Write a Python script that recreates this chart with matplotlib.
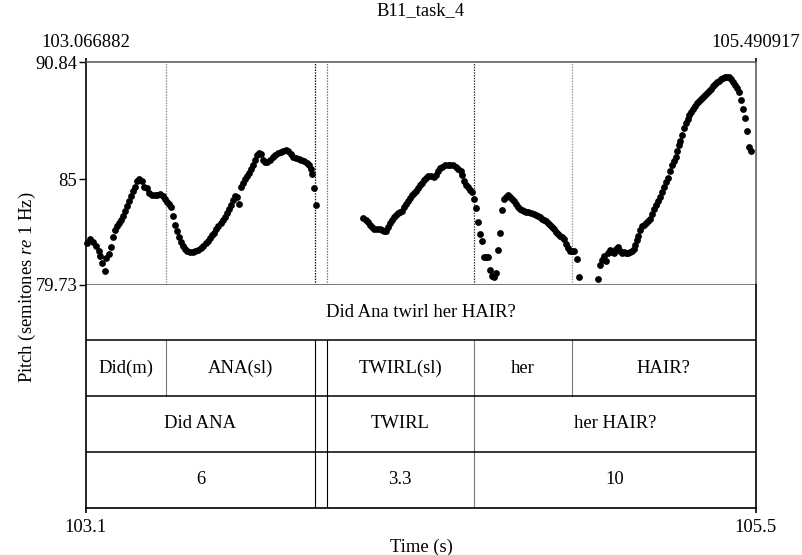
import matplotlib
matplotlib.use("Agg")
import matplotlib.pyplot as plt

plt.rcParams['font.family'] = 'Liberation Serif'
plt.rcParams['font.size'] = 13.4
plt.rcParams['mathtext.fontset'] = 'custom'
plt.rcParams['mathtext.rm'] = 'Liberation Serif'
plt.rcParams['mathtext.it'] = 'Liberation Serif:italic'

title = "B11_task_4"
t_start, t_end = 103.066882, 105.490917
st_min, st_mid, st_max = 79.73, 85, 90.84
top_labels = ["103.066882", "105.490917"]
bottom_labels = ["103.1", "105.5"]
y_labels = ["79.73", "85", "90.84"]

# pitch track, time (s) and semitones re 1 Hz
t_did = [103.0704, 103.0824, 103.0945, 103.1041, 103.1138, 103.1186, 103.1258, 103.1355,
         103.1403, 103.1499, 103.1572, 103.1668, 103.1741, 103.1813, 103.1885, 103.1958,
         103.2030, 103.2102, 103.2175, 103.2247, 103.2320, 103.2392, 103.2464, 103.2537,
         103.2609, 103.2705, 103.2778, 103.2874, 103.2971, 103.3067, 103.3164, 103.3260,
         103.3357, 103.3453, 103.3526, 103.3622, 103.3694, 103.3767]
st_did = [81.797, 81.997, 81.880, 81.664, 81.431, 81.164, 80.798, 80.398,
          81.047, 81.264, 81.630, 82.130, 82.463, 82.663, 82.796, 82.963,
          83.162, 83.429, 83.662, 83.928, 84.162, 84.395, 84.628, 84.928,
          84.994, 84.928, 84.628, 84.561, 84.295, 84.228, 84.195, 84.228,
          84.262, 84.162, 83.995, 83.862, 83.762, 83.629]

t_ana = [103.3815, 103.3887, 103.3960, 103.4032, 103.4104, 103.4177, 103.4249, 103.4346,
         103.4442, 103.4539, 103.4635, 103.4732, 103.4828, 103.4925, 103.5021, 103.5093,
         103.5166, 103.5238, 103.5310, 103.5383, 103.5455, 103.5551, 103.5648, 103.5720,
         103.5793, 103.5865, 103.5938, 103.6010, 103.6058, 103.6130, 103.6203, 103.6275,
         103.6347, 103.6420, 103.6492, 103.6565, 103.6637, 103.6709, 103.6782, 103.6854,
         103.6926, 103.6999, 103.7071, 103.7144, 103.7240, 103.7337, 103.7433, 103.7529,
         103.7626, 103.7722, 103.7819, 103.7915, 103.7987, 103.8084, 103.8180, 103.8277,
         103.8373, 103.8470, 103.8567, 103.8663, 103.8735, 103.8807, 103.8856, 103.8928,
         103.9000]
st_ana = [83.162, 82.713, 82.396, 82.097, 81.863, 81.664, 81.530, 81.431,
          81.364, 81.381, 81.397, 81.464, 81.547, 81.664, 81.797, 81.930,
          82.063, 82.197, 82.330, 82.496, 82.663, 82.829, 82.963, 83.096,
          83.296, 83.496, 83.712, 83.962, 84.162, 84.095, 83.762, 84.628,
          84.828, 84.994, 85.161, 85.327, 85.527, 85.727, 85.960, 86.193,
          86.293, 86.260, 85.960, 85.860, 85.843, 85.960, 86.127, 86.227,
          86.293, 86.360, 86.426, 86.460, 86.393, 86.260, 86.127, 86.043,
          85.993, 85.960, 85.927, 85.827, 85.727, 85.494, 85.261, 84.561,
          83.695]

t_twirl = [104.0701, 104.0798, 104.0894, 104.0967, 104.1039, 104.1111, 104.1208, 104.1304,
           104.1377, 104.1473, 104.1546, 104.1618, 104.1690, 104.1763, 104.1835, 104.1907,
           104.1980, 104.2052, 104.2125, 104.2197, 104.2269, 104.2342, 104.2414, 104.2486,
           104.2559, 104.2631, 104.2703, 104.2776, 104.2848, 104.2920, 104.2993, 104.3065,
           104.3162, 104.3258, 104.3355, 104.3427, 104.3499, 104.3572, 104.3668, 104.3765,
           104.3861, 104.3958, 104.4054, 104.4151, 104.4247, 104.4295, 104.4368, 104.4440,
           104.4512, 104.4585, 104.4657, 104.4705, 104.4778, 104.4850, 104.4922, 104.4995,
           104.5067, 104.5164, 104.5236, 104.5284, 104.5381, 104.5453, 104.5525, 104.5598,
           104.5670, 104.5743, 104.5791, 104.5863, 104.5960, 104.6032, 104.6104, 104.6177,
           104.6249, 104.6321, 104.6394, 104.6466, 104.6538, 104.6611, 104.6683, 104.6780,
           104.6876, 104.6949, 104.7021, 104.7093, 104.7166, 104.7238, 104.7310, 104.7383,
           104.7455, 104.7527, 104.7600, 104.7672, 104.7744, 104.7817, 104.7889, 104.7962,
           104.8034, 104.8106, 104.8179, 104.8251, 104.8347, 104.8444, 104.8516]
st_twirl = [83.046, 82.963, 82.879, 82.713, 82.596, 82.496, 82.496, 82.496,
            82.463, 82.396, 82.430, 82.596, 82.796, 82.963, 83.096, 83.196,
            83.296, 83.362, 83.429, 83.595, 83.762, 83.928, 84.062, 84.195,
            84.295, 84.428, 84.561, 84.694, 84.828, 84.961, 85.061, 85.161,
            85.161, 85.127, 85.227, 85.427, 85.560, 85.627, 85.694, 85.727,
            85.727, 85.694, 85.627, 85.527, 85.394, 85.194, 84.928, 84.728,
            84.595, 84.461, 84.361, 84.028, 83.545, 82.863, 82.263, 81.897,
            81.131, 81.131, 81.131, 80.465, 80.165, 80.131, 80.331, 81.464,
            82.330, 83.462, 83.995, 84.128, 84.195, 84.095, 84.028, 83.895,
            83.762, 83.629, 83.529, 83.462, 83.395, 83.362, 83.362, 83.329,
            83.262, 83.229, 83.162, 83.096, 83.029, 82.963, 82.896, 82.829,
            82.729, 82.596, 82.496, 82.363, 82.263, 82.163, 82.097, 81.997,
            81.764, 81.564, 81.397, 81.397, 81.397, 80.997, 80.131]

t_hair = [104.9216, 104.9289, 104.9361, 104.9433, 104.9506, 104.9554, 104.9626, 104.9699,
          104.9771, 104.9843, 104.9916, 104.9988, 105.0060, 105.0133, 105.0205, 105.0277,
          105.0350, 105.0422, 105.0495, 105.0543, 105.0615, 105.0663, 105.0736, 105.0808,
          105.0880, 105.0953, 105.1025, 105.1098, 105.1170, 105.1242, 105.1315, 105.1387,
          105.1459, 105.1532, 105.1604, 105.1676, 105.1749, 105.1821, 105.1894, 105.1942,
          105.2014, 105.2062, 105.2135, 105.2183, 105.2255, 105.2328, 105.2376, 105.2448,
          105.2497, 105.2569, 105.2641, 105.2714, 105.2786, 105.2858, 105.2931, 105.3003,
          105.3075, 105.3148, 105.3220, 105.3292, 105.3365, 105.3437, 105.3510, 105.3582,
          105.3654, 105.3727, 105.3799, 105.3871, 105.3944, 105.4016, 105.4088, 105.4161,
          105.4233, 105.4306, 105.4378, 105.4450, 105.4523, 105.4595, 105.4667, 105.4740]
st_hair = [79.998, 80.714, 80.964, 81.164, 80.898, 81.331, 81.464, 81.381,
           81.297, 81.497, 81.597, 81.431, 81.331, 81.381, 81.331, 81.331,
           81.364, 81.431, 81.530, 81.697, 81.963, 82.163, 82.463, 82.663,
           82.729, 82.796, 82.896, 83.029, 83.262, 83.495, 83.695, 83.895,
           84.128, 84.361, 84.595, 84.861, 85.061, 85.427, 85.694, 85.927,
           86.127, 86.426, 86.693, 86.926, 87.226, 87.559, 87.825, 88.025,
           88.192, 88.358, 88.525, 88.658, 88.791, 88.891, 88.991, 89.091,
           89.191, 89.291, 89.424, 89.524, 89.657, 89.757, 89.857, 89.924,
           89.990, 90.057, 90.107, 90.123, 90.090, 89.990, 89.857, 89.724,
           89.557, 89.357, 88.958, 88.525, 88.058, 87.426, 86.593, 86.393]

# TextGrid tiers: interior boundaries (s) and interval labels
tier1_bounds = []
tier1_labels = ["Did Ana twirl her HAIR?"]
tier2_bounds = [103.3574, 103.8976, 103.9389, 104.4707, 104.8252]
tier2_labels = ["Did(m)", "ANA(sl)", "", "TWIRL(sl)", "her", "HAIR?"]
tier3_bounds = [103.8976, 103.9389, 104.4707]
tier3_labels = ["Did ANA", "", "TWIRL", "her HAIR?"]
tier4_bounds = [103.8976, 103.9389, 104.4707]
tier4_labels = ["6", "", "3.3", "10"]

W, H = 803, 555


def box(x0, y0, x1, y1):
    # pixel box -> figure fraction
    return [x0 / W, 1 - y1 / H, (x1 - x0) / W, (y1 - y0) / H]


fig = plt.figure(figsize=(W / 100, H / 100), dpi=100)
ax = fig.add_axes(box(85.7, 62.3, 755.7, 284.7))
tx = fig.add_axes(box(85.7, 284.7, 755.7, 507.5))

# pitch panel
for t, st in [(t_did, st_did), (t_ana, st_ana), (t_twirl, st_twirl), (t_hair, st_hair)]:
    ax.scatter(t, st, s=24, c='black', linewidths=0, clip_on=False, zorder=3)

# dotted boundary lines from word tier
pitch_line_colors = ['#888888', '#111111', '#777777', '#333333', '#999999']
for b, col in zip(tier2_bounds, pitch_line_colors):
    ax.axvline(b, color=col, lw=0.9, linestyle=(0, (1.2, 1.0)), zorder=1)

ax.set_xlim(t_start, t_end)
ax.set_ylim(st_min, st_max)
ax.set_yticks([st_min, st_mid, st_max])
ax.set_yticklabels(y_labels)
ax.tick_params(axis='y', length=5, width=1, pad=1, direction='out')
ax.xaxis.tick_top()
ax.set_xticks([t_start, t_end])
ax.set_xticklabels(top_labels)
ax.tick_params(axis='x', length=3, width=1.2, pad=5, direction='out')
for side in ['top', 'right', 'bottom']:
    ax.spines[side].set_color('#555555')
    ax.spines[side].set_linewidth(1.1)
ax.spines['left'].set_color('black')
ax.spines['left'].set_linewidth(1.2)

# tiers panel
tiers = [(tier1_bounds, tier1_labels), (tier2_bounds, tier2_labels),
         (tier3_bounds, tier3_labels), (tier4_bounds, tier4_labels)]
dark = {103.8976, 103.9389}
for i, (bounds, labels) in enumerate(tiers):
    edges = [t_start] + bounds + [t_end]
    for b in bounds:
        col = 'black' if b in dark else '#777777'
        tx.plot([b, b], [i, i + 1], color=col, lw=0.8)
    for a, b, lab in zip(edges[:-1], edges[1:], labels):
        if lab:
            tx.text((a + b) / 2, i + 0.5, lab, ha='center', va='center')
    if i > 0:
        tx.axhline(i, color='black', lw=1.1)

tx.set_xlim(t_start, t_end)
tx.set_ylim(4, 0)
tx.set_yticks([])
tx.set_xticks([t_start, t_end])
tx.set_xticklabels(bottom_labels)
tx.tick_params(axis='x', length=3.3, width=1.2, pad=5, direction='out')
tx.spines['top'].set_visible(False)
for side in ['left', 'right', 'bottom']:
    tx.spines[side].set_color('black')
    tx.spines[side].set_linewidth(1.2)

fig.text(421 / W, 1 - 11 / H, title, ha='center', va='center')
fig.text(421 / W, 1 - 547 / H, "Time (s)", ha='center', va='center')
fig.text(27 / W, 1 - 287 / H, r"Pitch (semitones $\mathit{re}$ 1 Hz)",
         rotation=90, ha='center', va='center')

fig.savefig("out.png", dpi=100)
